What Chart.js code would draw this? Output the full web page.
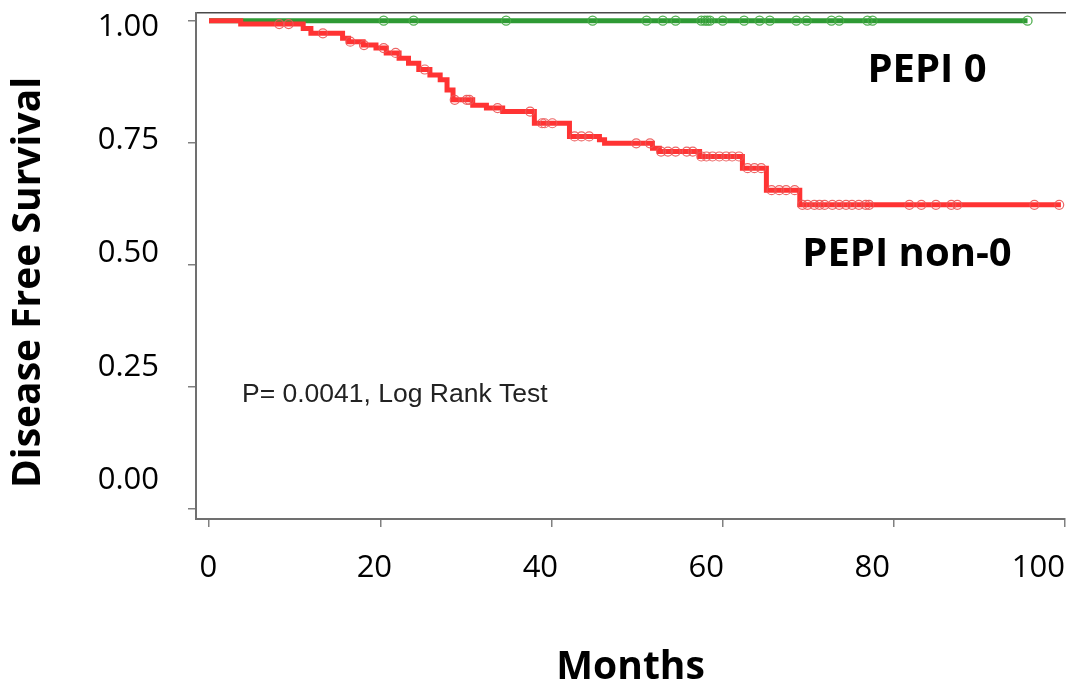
<!DOCTYPE html>
<html>
<head>
<meta charset="utf-8">
<script src="https://cdn.jsdelivr.net/npm/chart.js@4.4.1/dist/chart.umd.min.js"></script>
<style>
  html, body { margin: 0; padding: 0; background: #fff; overflow: hidden; }
  /* a few px wider than the window: the point overflow padding on the right falls off-screen */
  #wrap { width: 1071px; height: 684px; position: relative; }
</style>
</head>
<body>
<div id="wrap"><canvas id="kmChart"></canvas></div>
<script>
// Kaplan-Meier steps (months, survival after the drop)
const redTimes = [0, 3.7, 11.0, 11.9, 15.6, 16.3, 18.0, 19.5, 20.7, 22.2, 23.3, 24.5, 25.8, 27.0, 27.8, 28.5,
    30.8, 32.4, 34.3, 38.0, 42.1, 45.6, 46.2, 51.8, 52.6, 57.3, 62.3, 65.1, 69.0, 99.5];
const redSurv = [1.0, 0.993, 0.984, 0.974, 0.964, 0.957, 0.950, 0.944, 0.934, 0.923, 0.913, 0.900, 0.889, 0.879, 0.858, 0.838,
    0.827, 0.821, 0.814, 0.790, 0.763, 0.756, 0.749, 0.739, 0.732, 0.722, 0.698, 0.653, 0.623, 0.623];

const greenTimes = [0, 95.6];
const greenSurv = [1.0, 1.0];

// censored observations (months)
const redCensor = [8.2, 9.3, 13.3, 16.5, 18.1, 20.4, 21.8, 25.2, 28.7, 30.1, 30.4, 33.7, 37.5, 38.9, 39.2, 40.1,
    42.7, 43.5, 44.4, 49.9, 51.5, 52.8, 53.6, 54.5, 55.8, 56.5, 57.5, 58.1, 58.8, 59.6, 60.4, 61.1, 61.9,
    62.9, 63.7, 64.5, 65.7, 66.6, 67.4, 68.4, 69.3, 69.9, 70.7, 71.3, 71.9, 72.8, 73.6, 74.4, 75.1, 75.9,
    76.7, 77.1, 81.8, 83.2, 84.9, 86.7, 87.4, 96.4, 99.3];
const greenCensor = [20.4, 23.9, 34.7, 44.8, 51.1, 53.0, 54.5, 57.5, 57.9, 58.2, 58.5, 60.0, 62.5, 64.3, 65.5,
    68.6, 69.8, 72.7, 73.6, 76.9, 77.5, 95.6];

const xTicks = [0, 20, 40, 60, 80, 100];
const yTicks = [0, 0.25, 0.5, 0.75, 1.0];

// survival level of a step curve at time t
function levelAt(times, surv, t) {
    let s = surv[0];
    for (let i = 0; i < times.length; i++) {
        if (times[i] <= t) s = surv[i];
    }
    return s;
}

const toPoints = (times, surv) => times.map((t, i) => ({ x: t, y: surv[i] }));

// fixed box size for a scale, no extra label padding
function fixSize(size) {
    return scale => {
        if (scale.isHorizontal()) scale.height = size;
        else scale.width = size;
        scale.paddingLeft = scale.paddingRight = scale.paddingTop = scale.paddingBottom = 0;
    };
}
const setTicks = values => scale => { scale.ticks = values.map(v => ({ value: v })); };

const notes = [
    { text: 'PEPI 0', x: 76.9, y: 0.875, font: 'bold 40px "Open Sans"', color: '#000' },
    { text: 'PEPI non-0', x: 69.3, y: 0.497, font: 'bold 40px "Open Sans"', color: '#000' },
    { text: 'P= 0.0041, Log Rank Test', x: 3.85, y: 0.219, font: '26.5px "Liberation Sans"', color: '#222' },
    { text: 'Disease Free Survival', x: -21.0, y: 0.464, font: 'bold 39px "Open Sans"', color: '#000', rotate: true }
];

const notesPlugin = {
    id: 'notes',
    afterDraw(chart) {
        const { ctx, scales } = chart;
        ctx.save();
        notes.forEach(n => {
            const px = scales.x.getPixelForValue(n.x);
            const py = scales.y.getPixelForValue(n.y);
            ctx.font = n.font;
            ctx.fillStyle = n.color;
            if (n.rotate) {
                ctx.save();
                ctx.translate(px, py);
                ctx.rotate(-Math.PI / 2);
                ctx.textAlign = 'center';
                ctx.textBaseline = 'middle';
                ctx.fillText(n.text, 0, 0);
                ctx.restore();
            } else {
                ctx.textAlign = 'left';
                ctx.textBaseline = 'alphabetic';
                ctx.fillText(n.text, px, py);
            }
        });
        ctx.restore();
    }
};

const tickFont = { family: 'Open Sans', size: 31 };

new Chart(document.getElementById('kmChart'), {
    type: 'scatter',
    data: {
        datasets: [
            {
                label: 'PEPI non-0 censored',
                data: redCensor.map(t => ({ x: t, y: levelAt(redTimes, redSurv, t) })),
                showLine: false,
                pointStyle: 'circle',
                pointRadius: 4.5,
                pointBorderWidth: 1.2,
                pointBorderColor: 'rgba(235, 85, 85, 0.9)',
                pointBackgroundColor: 'rgba(0, 0, 0, 0)'
            },
            {
                label: 'PEPI 0 censored',
                data: greenCensor.map(t => ({ x: t, y: levelAt(greenTimes, greenSurv, t) })),
                showLine: false,
                pointStyle: 'circle',
                pointRadius: 4.5,
                pointBorderWidth: 1.3,
                pointBorderColor: 'rgba(70, 170, 70, 0.95)',
                pointBackgroundColor: 'rgba(0, 0, 0, 0)'
            },
            {
                label: 'PEPI non-0',
                data: toPoints(redTimes, redSurv),
                showLine: true,
                stepped: 'before',
                borderColor: '#ff3333',
                borderWidth: 5,
                borderJoinStyle: 'miter',
                pointRadius: 0
            },
            {
                label: 'PEPI 0',
                data: toPoints(greenTimes, greenSurv),
                showLine: true,
                borderColor: '#2e9a34',
                borderWidth: 5,
                pointRadius: 0
            }
        ]
    },
    options: {
        responsive: true,
        maintainAspectRatio: false,
        animation: false,
        events: [],
        layout: { padding: 0 },
        plugins: { legend: { display: false }, tooltip: { enabled: false } },
        scales: {
            x: {
                type: 'linear', position: 'bottom', weight: 0,
                min: -1.52, max: 100,
                afterBuildTicks: setTicks(xTicks),
                afterFit: fixSize(0),
                ticks: { display: false },
                grid: { drawOnChartArea: false, tickLength: 8, color: '#808080', lineWidth: 1.5 },
                border: { color: '#707070', width: 2 }
            },
            xLabels: {
                type: 'linear', position: 'bottom', weight: 1,
                min: -1.493, max: 103.24,
                afterBuildTicks: setTicks(xTicks),
                afterFit: fixSize(165),
                ticks: { padding: 31, maxRotation: 0, autoSkip: false, font: tickFont, color: '#000' },
                grid: { display: false, drawTicks: false },
                border: { display: false },
                title: { display: true, text: 'Months', color: '#000', padding: { top: 0, bottom: -7 },
                    font: { family: 'Open Sans', size: 39, weight: 'bold' } }
            },
            xTop: {
                type: 'linear', position: 'top',
                afterFit: fixSize(13),
                ticks: { display: false },
                grid: { display: false, drawTicks: false },
                border: { color: '#4a4a4a', width: 1.5 }
            },
            y: {
                type: 'linear', position: 'left', weight: 0,
                min: -0.0201, max: 1.0157,
                afterBuildTicks: setTicks(yTicks),
                afterFit: fixSize(0),
                ticks: { display: false },
                grid: { drawOnChartArea: false, tickLength: 8, color: '#808080', lineWidth: 1.5 },
                border: { color: '#707070', width: 2 }
            },
            yLabels: {
                type: 'linear', position: 'left', weight: 1,
                min: -0.086, max: 1.0302,
                afterBuildTicks: setTicks(yTicks),
                afterFit: fixSize(196),
                ticks: { padding: 37, font: tickFont, color: '#000', callback: v => v.toFixed(2) },
                grid: { display: false, drawTicks: false },
                border: { display: false }
            }
        }
    },
    plugins: [notesPlugin]
});
</script>
</body>
</html>
